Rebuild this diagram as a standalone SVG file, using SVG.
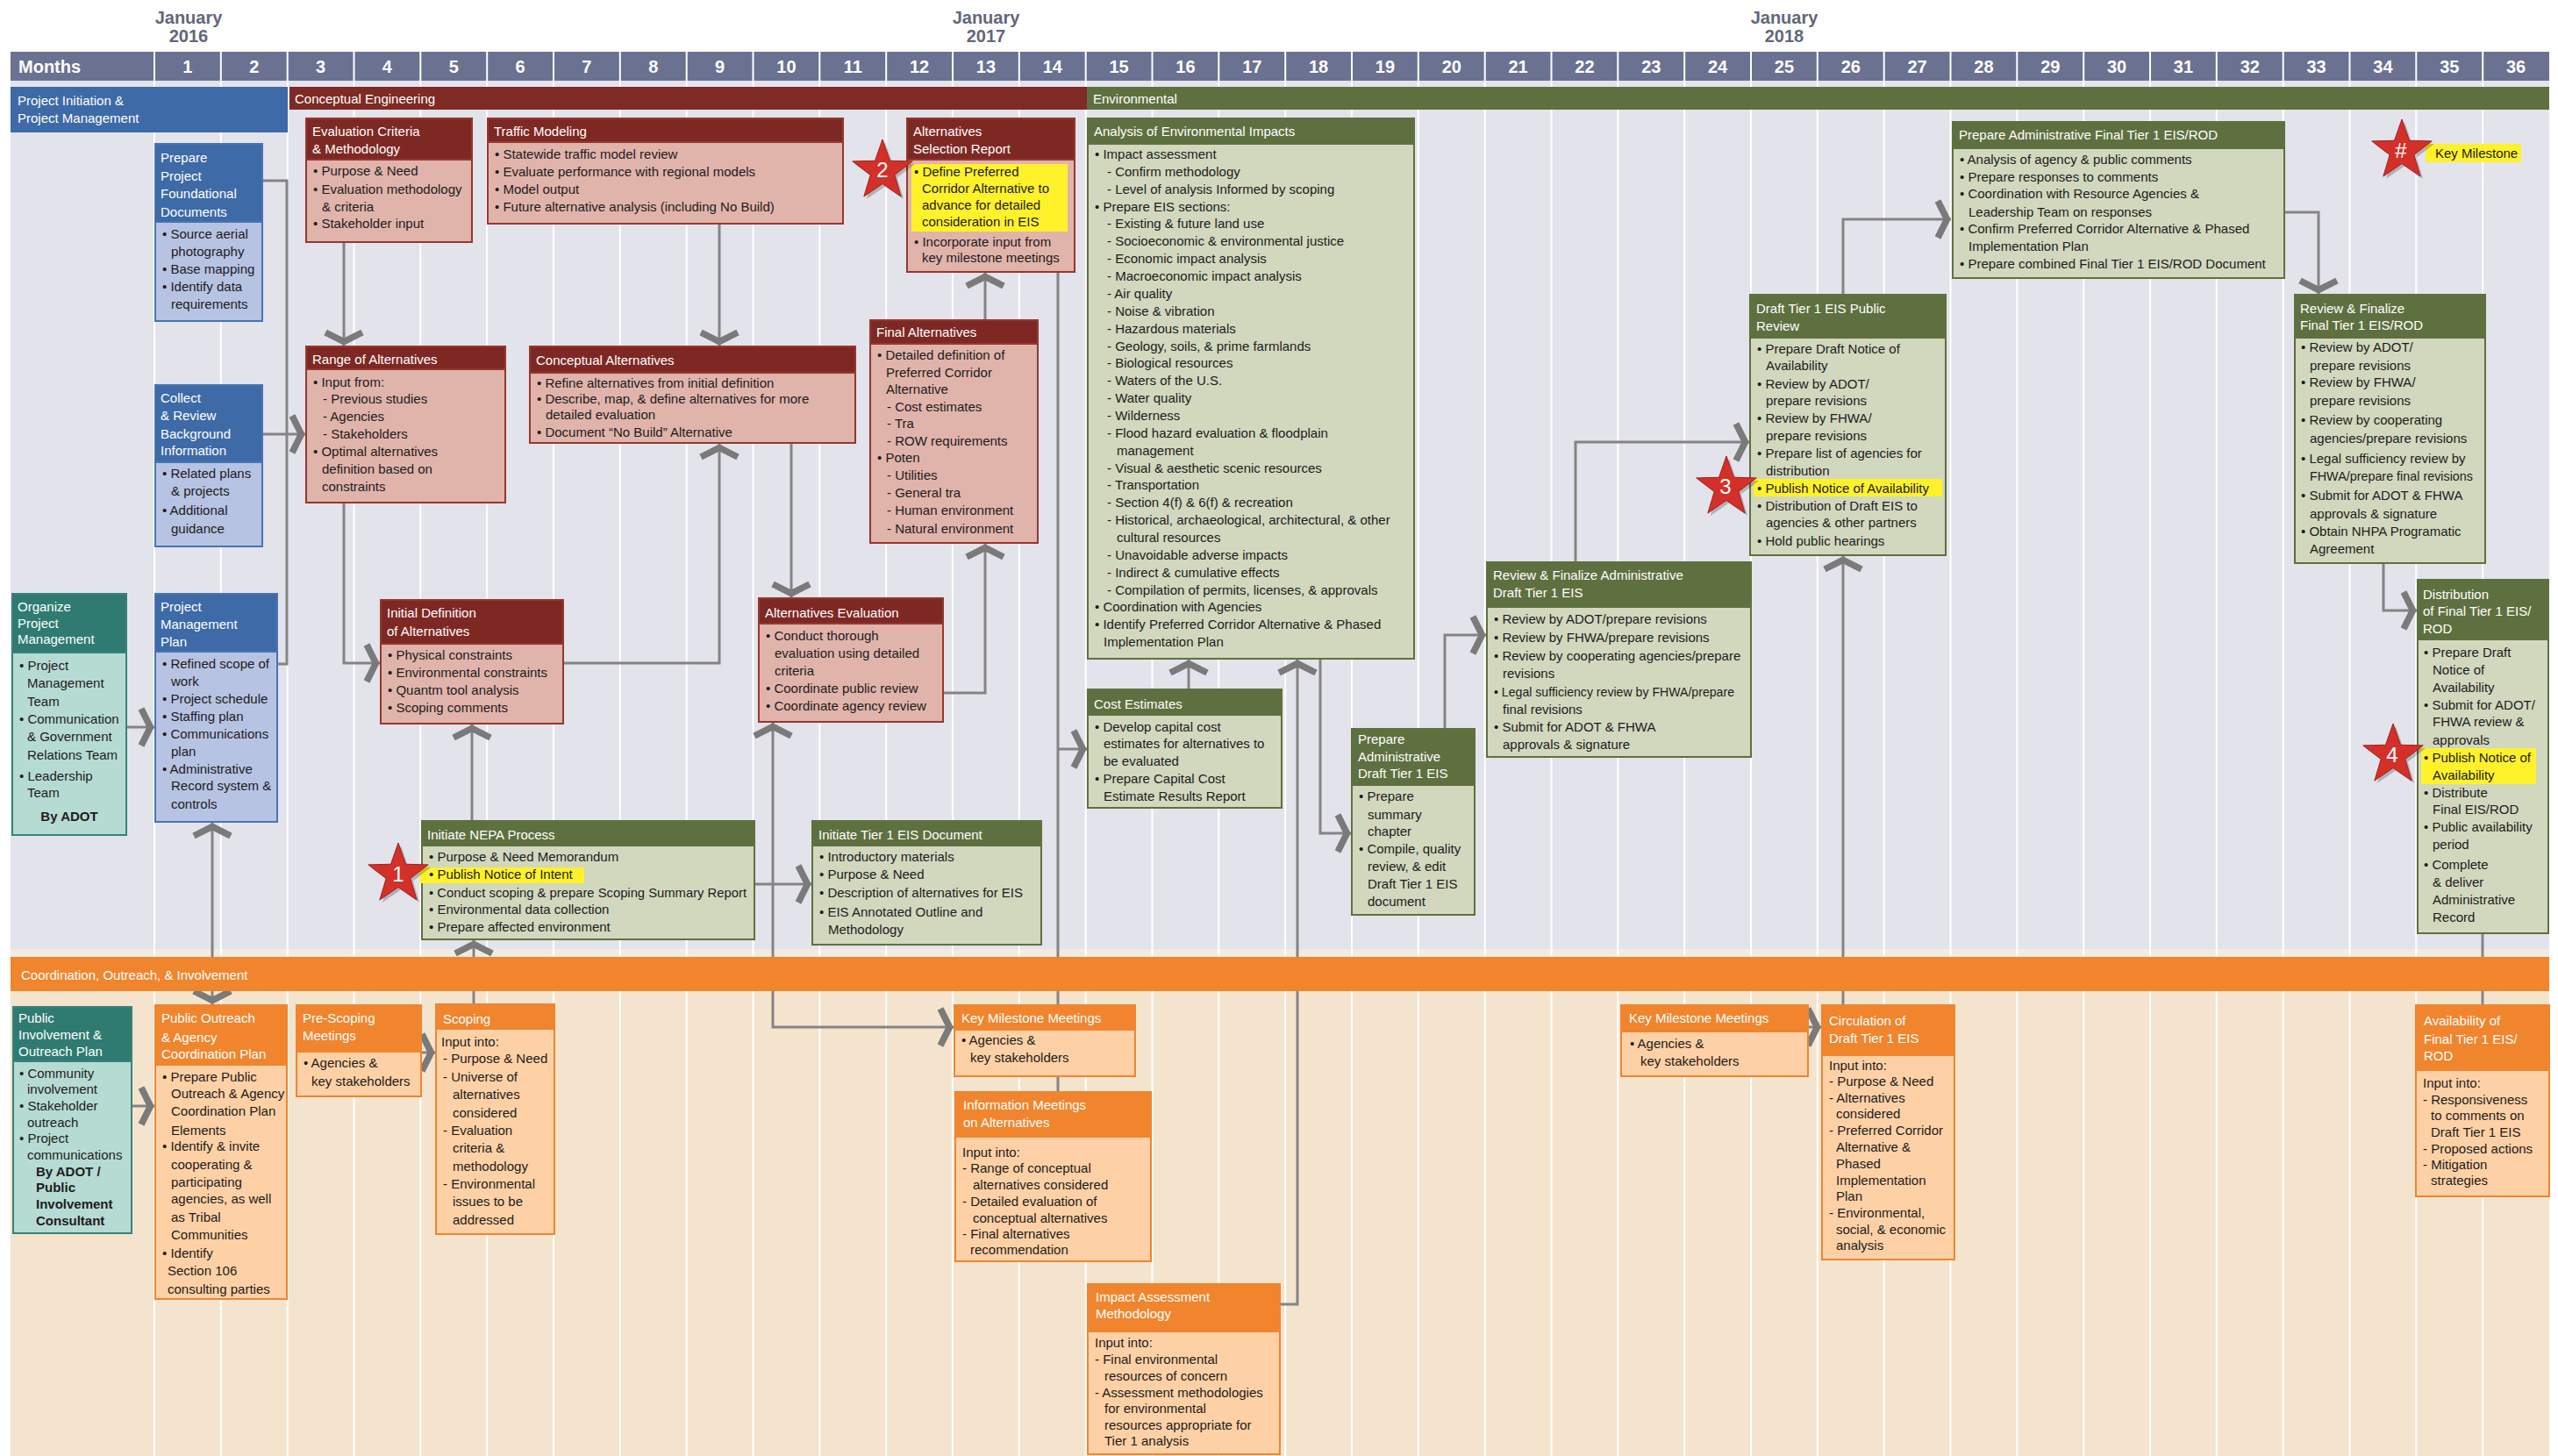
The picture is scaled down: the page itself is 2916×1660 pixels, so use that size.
<svg xmlns="http://www.w3.org/2000/svg" xmlns:xlink="http://www.w3.org/1999/xlink" width="2916" height="1660" viewBox="0 0 2916 1660">
<style>
text{font-family:"Liberation Sans",Arial,sans-serif;font-size:15px}
.ht{fill:#ffffff}
.bt{fill:#1e1b1c}
.bd{font-weight:bold}
.mo{font-size:20px;font-weight:bold;fill:#ffffff;text-anchor:middle}
.jan{font-size:20px;font-weight:bold;fill:#62677a;text-anchor:middle}
.grid{stroke:#ffffff;stroke-width:2;fill:none}
.con{fill:none;stroke:#848484;stroke-width:3}
.bB{fill:#b7c3e3;stroke:#4a73b3;stroke-width:2}.hB{fill:#3e6aa7;stroke:#4a73b3;stroke-width:2}
.bR{fill:#e0b4ab;stroke:#96372f;stroke-width:2}.hR{fill:#7e2824;stroke:#96372f;stroke-width:2}
.bG{fill:#d1d8be;stroke:#5f7040;stroke-width:2}.hG{fill:#5f7040;stroke:#5f7040;stroke-width:2}
.bT{fill:#b6dbd3;stroke:#378479;stroke-width:2}.hT{fill:#2f7b72;stroke:#378479;stroke-width:2}
.bO{fill:#fdd1a5;stroke:#ef8531;stroke-width:2}.hO{fill:#f0852e;stroke:#ef8531;stroke-width:2}
.hl{fill:#fff22a}
.star{fill:#d3302a;stroke:#a3201b;stroke-width:1}
.shd{fill:#000000;opacity:0.22}
.stn{font-size:24px;fill:#ffffff;text-anchor:middle}
</style>
<defs>
<marker id="ch" viewBox="-22 -28 26 56" markerWidth="26" markerHeight="56" refX="0" refY="0" orient="auto-start-reverse" markerUnits="userSpaceOnUse">
<path d="M-15,-21 L-4.5,0 L-15,21" fill="none" stroke="#7a7a7a" stroke-width="7.5"/>
</marker>
<path id="st" d="M0,-36 L8.52,-11.73 L34.24,-11.12 L13.79,4.48 L21.16,29.12 L0,14.5 L-21.16,29.12 L-13.79,4.48 L-34.24,-11.12 L-8.52,-11.73 Z"/>
</defs>

<g id="background">
<rect x="0" y="0" width="2916" height="1660" fill="#ffffff"/>
<rect x="12" y="92" width="2894" height="990" fill="#e3e3eb"/>
<rect x="12" y="1082" width="2894" height="9" fill="#f2ebe2"/>
<rect x="12" y="1130" width="2894" height="530" fill="#f4e4cd"/>
<rect x="12" y="59" width="2894" height="33" fill="#6b7191"/>
<path class="grid" d="M176,59V1660M251.8,59V1660M327.7,59V1660M403.5,59V1660M479.3,59V1660M555.2,59V1660M631,59V1660M706.8,59V1660M782.7,59V1660M858.5,59V1660M934.3,59V1660M1010.2,59V1660M1086,59V1660M1161.8,59V1660M1237.7,59V1660M1313.5,59V1660M1389.3,59V1660M1465.2,59V1660M1541,59V1660M1616.8,59V1660M1692.7,59V1660M1768.5,59V1660M1844.3,59V1660M1920.2,59V1660M1996,59V1660M2071.8,59V1660M2147.7,59V1660M2223.5,59V1660M2299.3,59V1660M2375.2,59V1660M2451,59V1660M2526.8,59V1660M2602.7,59V1660M2678.5,59V1660M2754.3,59V1660M2830.2,59V1660"/>
</g>

<g id="timeline">
<text class="jan" x="215" y="27">January</text><text class="jan" x="215" y="48">2016</text>
<text class="jan" x="1124" y="27">January</text><text class="jan" x="1124" y="48">2017</text>
<text class="jan" x="2034" y="27">January</text><text class="jan" x="2034" y="48">2018</text>
<text class="mo" x="21" y="83" style="text-anchor:start">Months</text>
<text class="mo" x="213.9" y="83">1</text><text class="mo" x="289.75" y="83">2</text><text class="mo" x="365.6" y="83">3</text><text class="mo" x="441.4" y="83">4</text><text class="mo" x="517.25" y="83">5</text><text class="mo" x="593.1" y="83">6</text><text class="mo" x="668.9" y="83">7</text><text class="mo" x="744.75" y="83">8</text><text class="mo" x="820.6" y="83">9</text><text class="mo" x="896.4" y="83">10</text><text class="mo" x="972.25" y="83">11</text><text class="mo" x="1048.1" y="83">12</text><text class="mo" x="1123.9" y="83">13</text><text class="mo" x="1199.75" y="83">14</text><text class="mo" x="1275.6" y="83">15</text><text class="mo" x="1351.4" y="83">16</text><text class="mo" x="1427.25" y="83">17</text><text class="mo" x="1503.1" y="83">18</text><text class="mo" x="1578.9" y="83">19</text><text class="mo" x="1654.75" y="83">20</text><text class="mo" x="1730.6" y="83">21</text><text class="mo" x="1806.4" y="83">22</text><text class="mo" x="1882.25" y="83">23</text><text class="mo" x="1958.1" y="83">24</text><text class="mo" x="2033.9" y="83">25</text><text class="mo" x="2109.75" y="83">26</text><text class="mo" x="2185.6" y="83">27</text><text class="mo" x="2261.4" y="83">28</text><text class="mo" x="2337.25" y="83">29</text><text class="mo" x="2413.1" y="83">30</text><text class="mo" x="2488.9" y="83">31</text><text class="mo" x="2564.75" y="83">32</text><text class="mo" x="2640.6" y="83">33</text><text class="mo" x="2716.4" y="83">34</text><text class="mo" x="2792.25" y="83">35</text><text class="mo" x="2868.1" y="83">36</text>
</g>

<g id="phases">
<rect x="12" y="99" width="316" height="52" fill="#3e6aa7"/>
<text class="ht"><tspan x="20" y="120">Project Initiation &amp;</tspan><tspan x="20" y="140">Project Management</tspan></text>
<rect x="330" y="99" width="909" height="26" fill="#7e2a25"/>
<text class="ht" x="336" y="118">Conceptual Engineering</text>
<rect x="1239" y="99" width="1667" height="26" fill="#5f7040"/>
<text class="ht" x="1246" y="118">Environmental</text>
</g>

<g id="connectors">
<path class="con" d="M299,206 H327 V757 H316"/>
<path class="con" d="M299,495 H348" marker-end="url(#ch)"/>
<path class="con" d="M144,829 H176" marker-end="url(#ch)"/>
<path class="con" d="M242,938 V1145" marker-start="url(#ch)" marker-end="url(#ch)"/>
<path class="con" d="M392,276 V394" marker-end="url(#ch)"/>
<path class="con" d="M820,255 V394" marker-end="url(#ch)"/>
<path class="con" d="M392,573 V756 H433" marker-end="url(#ch)"/>
<path class="con" d="M642,756 H820 V506" marker-end="url(#ch)"/>
<path class="con" d="M902,505 V681" marker-end="url(#ch)"/>
<path class="con" d="M538,936 V826" marker-end="url(#ch)"/>
<path class="con" d="M540,1145 V1072" marker-end="url(#ch)"/>
<path class="con" d="M860,1008 H925" marker-end="url(#ch)"/>
<path class="con" d="M1075,790 H1123 V620" marker-end="url(#ch)"/>
<path class="con" d="M881,824 V1171 H1087" marker-start="url(#ch)" marker-end="url(#ch)"/>
<path class="con" d="M1123,365 V311" marker-end="url(#ch)"/>
<path class="con" d="M1206,310 V1146"/>
<path class="con" d="M1206,854 H1239" marker-end="url(#ch)"/>
<path class="con" d="M1206,1227 V1245"/>
<path class="con" d="M1355,786 V752" marker-end="url(#ch)"/>
<path class="con" d="M1459,1487 H1479 V752" marker-end="url(#ch)"/>
<path class="con" d="M1505,751 V950 H1540" marker-end="url(#ch)"/>
<path class="con" d="M1647,831 V724 H1694" marker-end="url(#ch)"/>
<path class="con" d="M1796,641 V504 H1994" marker-end="url(#ch)"/>
<path class="con" d="M2101,336 V250 H2224" marker-end="url(#ch)"/>
<path class="con" d="M2101,1146 V634" marker-end="url(#ch)"/>
<path class="con" d="M2604,242 H2643 V335" marker-end="url(#ch)"/>
<path class="con" d="M2717,642 V696 H2755" marker-end="url(#ch)"/>
<path class="con" d="M2830,1064 V1146"/>
<path class="con" d="M480,1200 H496" marker-end="url(#ch)"/>
<path class="con" d="M150,1261 H176" marker-end="url(#ch)"/>
<path class="con" d="M2061,1171 H2076" marker-end="url(#ch)"/>
</g>

<g id="outreach-bar">
<rect x="12" y="1091" width="2894" height="39" fill="#f0852d"/>
<text class="ht" x="24" y="1117">Coordination, Outreach, &amp; Involvement</text>
</g>

<g id="n-ppfd">
<rect class="bB" x="177" y="164" width="122" height="202"/><rect class="hB" x="177" y="164" width="122" height="89"/>
<text class="ht"><tspan x="183" y="185">Prepare</tspan><tspan x="183" y="206">Project</tspan><tspan x="183" y="226">Foundational</tspan><tspan x="183" y="247">Documents</tspan></text>
<text class="bt"><tspan x="185" y="272">• Source aerial</tspan><tspan x="195" y="292">photography</tspan><tspan x="185" y="312">• Base mapping</tspan><tspan x="185" y="332">• Identify data</tspan><tspan x="195" y="352">requirements</tspan></text>
</g>

<g id="n-collect">
<rect class="bB" x="177" y="439" width="122" height="184"/><rect class="hB" x="177" y="439" width="122" height="88"/>
<text class="ht"><tspan x="183" y="459">Collect</tspan><tspan x="183" y="479">&amp; Review</tspan><tspan x="183" y="500">Background</tspan><tspan x="183" y="519">Information</tspan></text>
<text class="bt"><tspan x="185" y="545">• Related plans</tspan><tspan x="195" y="565">&amp; projects</tspan><tspan x="185" y="587">• Additional</tspan><tspan x="195" y="608">guidance</tspan></text>
</g>

<g id="n-organize">
<rect class="bT" x="14" y="677" width="130" height="275"/><rect class="hT" x="14" y="677" width="130" height="67"/>
<text class="ht"><tspan x="20" y="697">Organize</tspan><tspan x="20" y="716">Project</tspan><tspan x="20" y="734">Management</tspan></text>
<text class="bt"><tspan x="22" y="764">• Project</tspan><tspan x="31" y="784">Management</tspan><tspan x="31" y="805">Team</tspan><tspan x="22" y="825">• Communication</tspan><tspan x="31" y="845">&amp; Government</tspan><tspan x="31" y="866">Relations Team</tspan><tspan x="22" y="890">• Leadership</tspan><tspan x="31" y="909">Team</tspan></text>
<text class="bt bd" x="79" y="936" text-anchor="middle">By ADOT</text>
</g>

<g id="n-pmp">
<rect class="bB" x="177" y="677" width="139" height="260"/><rect class="hB" x="177" y="677" width="139" height="66"/>
<text class="ht"><tspan x="183" y="697">Project</tspan><tspan x="183" y="717">Management</tspan><tspan x="183" y="737">Plan</tspan></text>
<text class="bt"><tspan x="185" y="762">• Refined scope of</tspan><tspan x="195" y="782">work</tspan><tspan x="185" y="802">• Project schedule</tspan><tspan x="185" y="822">• Staffing plan</tspan><tspan x="185" y="842">• Communications</tspan><tspan x="195" y="862">plan</tspan><tspan x="185" y="882">• Administrative</tspan><tspan x="195" y="901">Record system &amp;</tspan><tspan x="195" y="922">controls</tspan></text>
</g>

<g id="n-evalcrit">
<rect class="bR" x="349" y="135" width="189" height="141"/><rect class="hR" x="349" y="135" width="189" height="47"/>
<text class="ht"><tspan x="356" y="155">Evaluation Criteria</tspan><tspan x="356" y="175">&amp; Methodology</tspan></text>
<text class="bt"><tspan x="357" y="200">• Purpose &amp; Need</tspan><tspan x="357" y="221">• Evaluation methodology</tspan><tspan x="367" y="241">&amp; criteria</tspan><tspan x="357" y="260">• Stakeholder input</tspan></text>
</g>

<g id="n-traffic">
<rect class="bR" x="556" y="135" width="405" height="120"/><rect class="hR" x="556" y="135" width="405" height="27"/>
<text class="ht" x="563" y="155">Traffic Modeling</text>
<text class="bt"><tspan x="564" y="181">• Statewide traffic model review</tspan><tspan x="564" y="201">• Evaluate performance with regional models</tspan><tspan x="564" y="221">• Model output</tspan><tspan x="564" y="241">• Future alternative analysis (including No Build)</tspan></text>
</g>

<g id="n-range">
<rect class="bR" x="349" y="395" width="227" height="178"/><rect class="hR" x="349" y="395" width="227" height="26"/>
<text class="ht" x="356" y="415">Range of Alternatives</text>
<text class="bt"><tspan x="357" y="441">• Input from:</tspan><tspan x="368" y="460">- Previous studies</tspan><tspan x="368" y="480">- Agencies</tspan><tspan x="368" y="500">- Stakeholders</tspan><tspan x="357" y="520">• Optimal alternatives</tspan><tspan x="367" y="540">definition based on</tspan><tspan x="367" y="560">constraints</tspan></text>
</g>

<g id="n-concalt">
<rect class="bR" x="604" y="395" width="371" height="110"/><rect class="hR" x="604" y="395" width="371" height="30"/>
<text class="ht" x="611" y="416">Conceptual Alternatives</text>
<text class="bt"><tspan x="612" y="442">• Refine alternatives from initial definition</tspan><tspan x="612" y="460">• Describe, map, &amp; define alternatives for more</tspan><tspan x="622" y="478">detailed evaluation</tspan><tspan x="612" y="498">• Document “No Build” Alternative</tspan></text>
</g>

<g id="n-initdef">
<rect class="bR" x="434" y="684" width="208" height="141"/><rect class="hR" x="434" y="684" width="208" height="50"/>
<text class="ht"><tspan x="441" y="704">Initial Definition</tspan><tspan x="441" y="725">of Alternatives</tspan></text>
<text class="bt"><tspan x="442" y="752">• Physical constraints</tspan><tspan x="442" y="772">• Environmental constraints</tspan><tspan x="442" y="792">• Quantm tool analysis</tspan><tspan x="442" y="812">• Scoping comments</tspan></text>
</g>

<g id="n-nepa">
<rect class="bG" x="481" y="936" width="379" height="135"/><rect class="hG" x="481" y="936" width="379" height="28"/>
<rect class="hl" x="478" y="989" width="188" height="18"/>
<text class="ht" x="487" y="957">Initiate NEPA Process</text>
<text class="bt"><tspan x="489" y="982">• Purpose &amp; Need Memorandum</tspan><tspan x="489" y="1002">• Publish Notice of Intent</tspan><tspan x="489" y="1023" textLength="362" lengthAdjust="spacingAndGlyphs">• Conduct scoping &amp; prepare Scoping Summary Report</tspan><tspan x="489" y="1042">• Environmental data collection</tspan><tspan x="489" y="1062">• Prepare affected environment</tspan></text>
</g>

<g id="n-initeis">
<rect class="bG" x="926" y="936" width="261" height="141"/><rect class="hG" x="926" y="936" width="261" height="28"/>
<text class="ht" x="933" y="957">Initiate Tier 1 EIS Document</text>
<text class="bt"><tspan x="934" y="982">• Introductory materials</tspan><tspan x="934" y="1002">• Purpose &amp; Need</tspan><tspan x="934" y="1023">• Description of alternatives for EIS</tspan><tspan x="934" y="1045">• EIS Annotated Outline and</tspan><tspan x="944" y="1065">Methodology</tspan></text>
</g>

<g id="n-alteval">
<rect class="bR" x="865" y="682" width="210" height="141"/><rect class="hR" x="865" y="682" width="210" height="29"/>
<text class="ht" x="872" y="704">Alternatives Evaluation</text>
<text class="bt"><tspan x="873" y="730">• Conduct thorough</tspan><tspan x="883" y="750">evaluation using detailed</tspan><tspan x="883" y="770">criteria</tspan><tspan x="873" y="790">• Coordinate public review</tspan><tspan x="873" y="810">• Coordinate agency review</tspan></text>
</g>

<g id="n-finalalt">
<rect class="bR" x="992" y="365" width="191" height="254"/><rect class="hR" x="992" y="365" width="191" height="27"/>
<text class="ht" x="999" y="384">Final Alternatives</text>
<text class="bt"><tspan x="1000" y="410">• Detailed definition of</tspan><tspan x="1010" y="430">Preferred Corridor</tspan><tspan x="1010" y="449">Alternative</tspan><tspan x="1011" y="469">- Cost estimates</tspan><tspan x="1011" y="488">- Tra</tspan><tspan x="1011" y="508">- ROW requirements</tspan><tspan x="1000" y="527">• Poten</tspan><tspan x="1011" y="547">- Utilities</tspan><tspan x="1011" y="567">- General tra</tspan><tspan x="1011" y="587">- Human environment</tspan><tspan x="1011" y="608">- Natural environment</tspan></text>
</g>

<g id="n-asr">
<rect class="bR" x="1034" y="135" width="191" height="175"/><rect class="hR" x="1034" y="135" width="191" height="47"/>
<rect class="hl" x="1039" y="187" width="178" height="77"/>
<text class="ht"><tspan x="1041" y="155">Alternatives</tspan><tspan x="1041" y="175">Selection Report</tspan></text>
<text class="bt"><tspan x="1042" y="201">• Define Preferred</tspan><tspan x="1051" y="220">Corridor Alternative to</tspan><tspan x="1051" y="239">advance for detailed</tspan><tspan x="1051" y="258">consideration in EIS</tspan><tspan x="1042" y="281">• Incorporate input from</tspan><tspan x="1051" y="299">key milestone meetings</tspan></text>
</g>

<g id="n-aei">
<rect class="bG" x="1240" y="135" width="372" height="616"/><rect class="hG" x="1240" y="135" width="372" height="29"/>
<text class="ht" x="1247" y="155">Analysis of Environmental Impacts</text>
<text class="bt"><tspan x="1248" y="181">• Impact assessment</tspan><tspan x="1262" y="200.9">- Confirm methodology</tspan><tspan x="1262" y="220.7">- Level of analysis Informed by scoping</tspan><tspan x="1248" y="240.6">• Prepare EIS sections:</tspan><tspan x="1262" y="260.4">- Existing &amp; future land use</tspan><tspan x="1262" y="280.3">- Socioeconomic &amp; environmental justice</tspan><tspan x="1262" y="300.2">- Economic impact analysis</tspan><tspan x="1262" y="320">- Macroeconomic impact analysis</tspan><tspan x="1262" y="339.9">- Air quality</tspan><tspan x="1262" y="359.7">- Noise &amp; vibration</tspan><tspan x="1262" y="379.6">- Hazardous materials</tspan><tspan x="1262" y="399.5">- Geology, soils, &amp; prime farmlands</tspan><tspan x="1262" y="419.3">- Biological resources</tspan><tspan x="1262" y="439.2">- Waters of the U.S.</tspan><tspan x="1262" y="459">- Water quality</tspan><tspan x="1262" y="478.9">- Wilderness</tspan><tspan x="1262" y="498.8">- Flood hazard evaluation &amp; floodplain</tspan><tspan x="1273" y="518.6">management</tspan><tspan x="1262" y="538.5">- Visual &amp; aesthetic scenic resources</tspan><tspan x="1262" y="558.3">- Transportation</tspan><tspan x="1262" y="578.2">- Section 4(f) &amp; 6(f) &amp; recreation</tspan><tspan x="1262" y="598.1">- Historical, archaeological, architectural, &amp; other</tspan><tspan x="1273" y="617.9">cultural resources</tspan><tspan x="1262" y="637.8">- Unavoidable adverse impacts</tspan><tspan x="1262" y="657.6">- Indirect &amp; cumulative effects</tspan><tspan x="1262" y="677.5">- Compilation of permits, licenses, &amp; approvals</tspan><tspan x="1248" y="697.4">• Coordination with Agencies</tspan><tspan x="1248" y="717.2">• Identify Preferred Corridor Alternative &amp; Phased</tspan><tspan x="1258" y="737.1">Implementation Plan</tspan></text>
</g>

<g id="n-cost">
<rect class="bG" x="1240" y="786" width="221" height="135"/><rect class="hG" x="1240" y="786" width="221" height="29"/>
<text class="ht" x="1247" y="808">Cost Estimates</text>
<text class="bt"><tspan x="1248" y="834">• Develop capital cost</tspan><tspan x="1258" y="853">estimates for alternatives to</tspan><tspan x="1258" y="873">be evaluated</tspan><tspan x="1248" y="893">• Prepare Capital Cost</tspan><tspan x="1258" y="913">Estimate Results Report</tspan></text>
</g>

<g id="n-pad">
<rect class="bG" x="1541" y="831" width="140" height="212"/><rect class="hG" x="1541" y="831" width="140" height="64"/>
<text class="ht"><tspan x="1548" y="848">Prepare</tspan><tspan x="1548" y="868">Administrative</tspan><tspan x="1548" y="887">Draft Tier 1 EIS</tspan></text>
<text class="bt"><tspan x="1549" y="913">• Prepare</tspan><tspan x="1559" y="934">summary</tspan><tspan x="1559" y="953">chapter</tspan><tspan x="1549" y="973">• Compile, quality</tspan><tspan x="1559" y="993">review, &amp; edit</tspan><tspan x="1559" y="1013">Draft Tier 1 EIS</tspan><tspan x="1559" y="1033">document</tspan></text>
</g>

<g id="n-rfad">
<rect class="bG" x="1695" y="641" width="301" height="222"/><rect class="hG" x="1695" y="641" width="301" height="51"/>
<text class="ht"><tspan x="1702" y="661">Review &amp; Finalize Administrative</tspan><tspan x="1702" y="681">Draft Tier 1 EIS</tspan></text>
<text class="bt"><tspan x="1703" y="711">• Review by ADOT/prepare revisions</tspan><tspan x="1703" y="732">• Review by FHWA/prepare revisions</tspan><tspan x="1703" y="753">• Review by cooperating agencies/prepare</tspan><tspan x="1713" y="773">revisions</tspan><tspan x="1703" y="794" textLength="274" lengthAdjust="spacingAndGlyphs">• Legal sufficiency review by FHWA/prepare</tspan><tspan x="1713" y="814">final revisions</tspan><tspan x="1703" y="834">• Submit for ADOT &amp; FHWA</tspan><tspan x="1713" y="854">approvals &amp; signature</tspan></text>
</g>

<g id="n-dtpr">
<rect class="bG" x="1995" y="336" width="223" height="297"/><rect class="hG" x="1995" y="336" width="223" height="49"/>
<rect class="hl" x="1999" y="546" width="215" height="20"/>
<text class="ht"><tspan x="2002" y="357">Draft Tier 1 EIS Public</tspan><tspan x="2002" y="377">Review</tspan></text>
<text class="bt"><tspan x="2003" y="403">• Prepare Draft Notice of</tspan><tspan x="2013" y="422">Availability</tspan><tspan x="2003" y="443">• Review by ADOT/</tspan><tspan x="2013" y="462">prepare revisions</tspan><tspan x="2003" y="482">• Review by FHWA/</tspan><tspan x="2013" y="502">prepare revisions</tspan><tspan x="2003" y="522">• Prepare list of agencies for</tspan><tspan x="2013" y="542">distribution</tspan><tspan x="2003" y="562">• Publish Notice of Availability</tspan><tspan x="2003" y="582">• Distribution of Draft EIS to</tspan><tspan x="2013" y="601">agencies &amp; other partners</tspan><tspan x="2003" y="622">• Hold public hearings</tspan></text>
</g>

<g id="n-paf">
<rect class="bG" x="2226" y="139" width="378" height="178"/><rect class="hG" x="2226" y="139" width="378" height="30"/>
<text class="ht" x="2233" y="159">Prepare Administrative Final Tier 1 EIS/ROD</text>
<text class="bt"><tspan x="2234" y="187">• Analysis of agency &amp; public comments</tspan><tspan x="2234" y="207">• Prepare responses to comments</tspan><tspan x="2234" y="226">• Coordination with Resource Agencies &amp;</tspan><tspan x="2244" y="247">Leadership Team on responses</tspan><tspan x="2234" y="266">• Confirm Preferred Corridor Alternative &amp; Phased</tspan><tspan x="2244" y="286">Implementation Plan</tspan><tspan x="2234" y="306">• Prepare combined Final Tier 1 EIS/ROD Document</tspan></text>
</g>

<g id="n-rff">
<rect class="bG" x="2616" y="336" width="217" height="306"/><rect class="hG" x="2616" y="336" width="217" height="49"/>
<text class="ht"><tspan x="2622" y="357">Review &amp; Finalize</tspan><tspan x="2622" y="376">Final Tier 1 EIS/ROD</tspan></text>
<text class="bt"><tspan x="2623" y="401">• Review by ADOT/</tspan><tspan x="2633" y="422">prepare revisions</tspan><tspan x="2623" y="441">• Review by FHWA/</tspan><tspan x="2633" y="462">prepare revisions</tspan><tspan x="2623" y="484">• Review by cooperating</tspan><tspan x="2633" y="505">agencies/prepare revisions</tspan><tspan x="2623" y="528">• Legal sufficiency review by</tspan><tspan x="2633" y="548" textLength="186" lengthAdjust="spacingAndGlyphs">FHWA/prepare final revisions</tspan><tspan x="2623" y="570">• Submit for ADOT &amp; FHWA</tspan><tspan x="2633" y="591">approvals &amp; signature</tspan><tspan x="2623" y="611">• Obtain NHPA Programatic</tspan><tspan x="2633" y="631">Agreement</tspan></text>
</g>

<g id="n-dist">
<rect class="bG" x="2756" y="661" width="149" height="403"/><rect class="hG" x="2756" y="661" width="149" height="68"/>
<rect class="hl" x="2760" y="853" width="131" height="41"/>
<text class="ht"><tspan x="2762" y="683">Distribution</tspan><tspan x="2762" y="702">of Final Tier 1 EIS/</tspan><tspan x="2762" y="722">ROD</tspan></text>
<text class="bt"><tspan x="2763" y="749">• Prepare Draft</tspan><tspan x="2773" y="769">Notice of</tspan><tspan x="2773" y="789">Availability</tspan><tspan x="2763" y="809">• Submit for ADOT/</tspan><tspan x="2773" y="828">FHWA review &amp;</tspan><tspan x="2773" y="849">approvals</tspan><tspan x="2763" y="869">• Publish Notice of</tspan><tspan x="2773" y="889">Availability</tspan><tspan x="2763" y="909">• Distribute</tspan><tspan x="2773" y="928">Final EIS/ROD</tspan><tspan x="2763" y="948">• Public availability</tspan><tspan x="2773" y="968">period</tspan><tspan x="2763" y="991">• Complete</tspan><tspan x="2773" y="1011">&amp; deliver</tspan><tspan x="2773" y="1031">Administrative</tspan><tspan x="2773" y="1051">Record</tspan></text>
</g>

<g id="n-piop">
<rect class="bT" x="15" y="1148" width="135" height="258"/><rect class="hT" x="15" y="1148" width="135" height="62"/>
<text class="ht"><tspan x="21" y="1166">Public</tspan><tspan x="21" y="1185">Involvement &amp;</tspan><tspan x="21" y="1204">Outreach Plan</tspan></text>
<text class="bt"><tspan x="22" y="1229">• Community</tspan><tspan x="31" y="1247">involvement</tspan><tspan x="22" y="1266">• Stakeholder</tspan><tspan x="31" y="1285">outreach</tspan><tspan x="22" y="1303">• Project</tspan><tspan x="31" y="1322">communications</tspan></text>
<text class="bt bd"><tspan x="41" y="1341">By ADOT /</tspan><tspan x="41" y="1359">Public</tspan><tspan x="41" y="1378">Involvement</tspan><tspan x="41" y="1397">Consultant</tspan></text>
</g>

<g id="n-outreachplan">
<rect class="bO" x="177" y="1146" width="150" height="335"/><rect class="hO" x="177" y="1146" width="150" height="68"/>
<text class="ht"><tspan x="184" y="1166">Public Outreach</tspan><tspan x="184" y="1188">&amp; Agency</tspan><tspan x="184" y="1207">Coordination Plan</tspan></text>
<text class="bt"><tspan x="185" y="1233">• Prepare Public</tspan><tspan x="195" y="1252">Outreach &amp; Agency</tspan><tspan x="195" y="1272">Coordination Plan</tspan><tspan x="195" y="1294">Elements</tspan><tspan x="185" y="1312">• Identify &amp; invite</tspan><tspan x="195" y="1333">cooperating &amp;</tspan><tspan x="195" y="1353">participating</tspan><tspan x="195" y="1372">agencies, as well</tspan><tspan x="195" y="1393">as Tribal</tspan><tspan x="195" y="1413">Communities</tspan><tspan x="185" y="1434">• Identify</tspan><tspan x="191" y="1454">Section 106</tspan><tspan x="191" y="1475">consulting parties</tspan></text>
</g>

<g id="n-prescoping">
<rect class="bO" x="338" y="1146" width="142" height="104"/><rect class="hO" x="338" y="1146" width="142" height="53"/>
<text class="ht"><tspan x="345" y="1166">Pre-Scoping</tspan><tspan x="345" y="1186">Meetings</tspan></text>
<text class="bt"><tspan x="346" y="1217">• Agencies &amp;</tspan><tspan x="355" y="1238">key stakeholders</tspan></text>
</g>

<g id="n-scoping">
<rect class="bO" x="497" y="1145" width="135" height="262"/><rect class="hO" x="497" y="1145" width="135" height="28"/>
<text class="ht" x="505" y="1167">Scoping</text>
<text class="bt"><tspan x="503" y="1193">Input into:</tspan><tspan x="505" y="1212">- Purpose &amp; Need</tspan><tspan x="505" y="1233">- Universe of</tspan><tspan x="516" y="1253">alternatives</tspan><tspan x="516" y="1274">considered</tspan><tspan x="505" y="1294">- Evaluation</tspan><tspan x="516" y="1314">criteria &amp;</tspan><tspan x="516" y="1335">methodology</tspan><tspan x="505" y="1355">- Environmental</tspan><tspan x="516" y="1375">issues to be</tspan><tspan x="516" y="1396">addressed</tspan></text>
</g>

<g id="n-kmm1">
<rect class="bO" x="1088" y="1146" width="206" height="81"/><rect class="hO" x="1088" y="1146" width="206" height="28"/>
<text class="ht" x="1096" y="1166">Key Milestone Meetings</text>
<text class="bt"><tspan x="1096" y="1191">• Agencies &amp;</tspan><tspan x="1106" y="1211">key stakeholders</tspan></text>
</g>

<g id="n-infomeet">
<rect class="bO" x="1089" y="1245" width="223" height="193"/><rect class="hO" x="1089" y="1245" width="223" height="51"/>
<text class="ht"><tspan x="1098" y="1265">Information Meetings</tspan><tspan x="1098" y="1285">on Alternatives</tspan></text>
<text class="bt"><tspan x="1097" y="1319">Input into:</tspan><tspan x="1097" y="1337">- Range of conceptual</tspan><tspan x="1109" y="1356">alternatives considered</tspan><tspan x="1097" y="1375">- Detailed evaluation of</tspan><tspan x="1109" y="1394">conceptual alternatives</tspan><tspan x="1097" y="1412">- Final alternatives</tspan><tspan x="1106" y="1430">recommendation</tspan></text>
</g>

<g id="n-iam">
<rect class="bO" x="1240" y="1464" width="219" height="194"/><rect class="hO" x="1240" y="1464" width="219" height="54"/>
<text class="ht"><tspan x="1249" y="1484">Impact Assessment</tspan><tspan x="1249" y="1503">Methodology</tspan></text>
<text class="bt"><tspan x="1248" y="1536">Input into:</tspan><tspan x="1248" y="1555">- Final environmental</tspan><tspan x="1259" y="1574">resources of concern</tspan><tspan x="1248" y="1593">- Assessment methodologies</tspan><tspan x="1259" y="1611">for environmental</tspan><tspan x="1259" y="1630">resources appropriate for</tspan><tspan x="1259" y="1648">Tier 1 analysis</tspan></text>
</g>

<g id="n-kmm2">
<rect class="bO" x="1848" y="1146" width="213" height="81"/><rect class="hO" x="1848" y="1146" width="213" height="30"/>
<text class="ht" x="1857" y="1166">Key Milestone Meetings</text>
<text class="bt"><tspan x="1858" y="1195">• Agencies &amp;</tspan><tspan x="1870" y="1215">key stakeholders</tspan></text>
</g>

<g id="n-circ">
<rect class="bO" x="2077" y="1146" width="151" height="290"/><rect class="hO" x="2077" y="1146" width="151" height="57"/>
<text class="ht"><tspan x="2085" y="1169">Circulation of</tspan><tspan x="2085" y="1189">Draft Tier 1 EIS</tspan></text>
<text class="bt"><tspan x="2085" y="1220">Input into:</tspan><tspan x="2085" y="1238">- Purpose &amp; Need</tspan><tspan x="2085" y="1257">- Alternatives</tspan><tspan x="2093" y="1275">considered</tspan><tspan x="2085" y="1294">- Preferred Corridor</tspan><tspan x="2093" y="1313">Alternative &amp;</tspan><tspan x="2093" y="1332">Phased</tspan><tspan x="2093" y="1351">Implementation</tspan><tspan x="2093" y="1369">Plan</tspan><tspan x="2085" y="1388">- Environmental,</tspan><tspan x="2093" y="1407">social, &amp; economic</tspan><tspan x="2093" y="1425">analysis</tspan></text>
</g>

<g id="n-avail">
<rect class="bO" x="2754" y="1146" width="152" height="218"/><rect class="hO" x="2754" y="1146" width="152" height="74"/>
<text class="ht"><tspan x="2763" y="1169">Availability of</tspan><tspan x="2763" y="1190">Final Tier 1 EIS/</tspan><tspan x="2763" y="1209">ROD</tspan></text>
<text class="bt"><tspan x="2762" y="1240">Input into:</tspan><tspan x="2762" y="1259">- Responsiveness</tspan><tspan x="2771" y="1277">to comments on</tspan><tspan x="2771" y="1296">Draft Tier 1 EIS</tspan><tspan x="2762" y="1315">- Proposed actions</tspan><tspan x="2762" y="1333">- Mitigation</tspan><tspan x="2771" y="1351">strategies</tspan></text>
</g>

<g id="milestones">
<use xlink:href="#st" class="shd" transform="translate(457,1000)"/><use xlink:href="#st" class="star" transform="translate(454,997)"/><text class="stn" x="454" y="1005">1</text>
<use xlink:href="#st" class="shd" transform="translate(1009,198)"/><use xlink:href="#st" class="star" transform="translate(1006,195)"/><text class="stn" x="1006" y="202">2</text>
<use xlink:href="#st" class="shd" transform="translate(1971,559)"/><use xlink:href="#st" class="star" transform="translate(1968,556)"/><text class="stn" x="1967" y="563">3</text>
<use xlink:href="#st" class="shd" transform="translate(2731,864)"/><use xlink:href="#st" class="star" transform="translate(2728,861)"/><text class="stn" x="2727" y="869">4</text>
</g>

<g id="legend">
<rect class="hl" x="2765" y="164" width="109" height="21"/>
<use xlink:href="#st" class="shd" transform="translate(2741,175)"/><use xlink:href="#st" class="star" transform="translate(2738,172)"/><text class="stn" x="2737" y="180">#</text>
<text class="bt" x="2776" y="180">Key Milestone</text>
</g>
</svg>
